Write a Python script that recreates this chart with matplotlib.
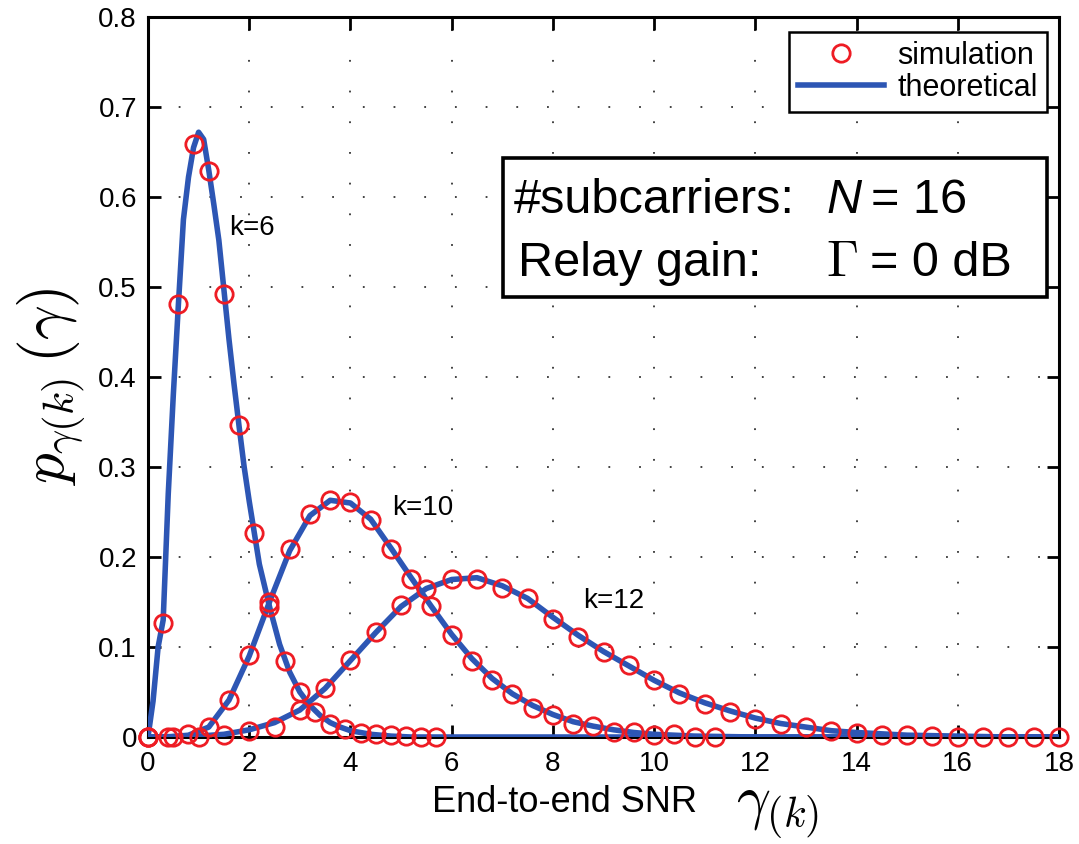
import numpy as np
import matplotlib
matplotlib.use("Agg")
import matplotlib.pyplot as plt
from matplotlib.lines import Line2D
from matplotlib.patches import Rectangle

# ---------------- data ----------------
# simulation points, k = 6
sim6_x = [0, 0.3, 0.6, 0.9, 1.2, 1.5, 1.8, 2.1, 2.4, 2.7, 3.0, 3.3, 3.6, 3.9, 4.2, 4.5, 4.8, 5.1, 5.4, 5.7]
sim6_y = [0.0, 0.127, 0.481, 0.659, 0.629, 0.492, 0.347, 0.227, 0.145, 0.085, 0.050, 0.028, 0.015,
          0.009, 0.005, 0.003, 0.002, 0.001, 0.0005, 0.0]
# simulation points, k = 10
sim10_x = [0, 0.4, 0.8, 1.2, 1.6, 2.0, 2.4, 2.8, 3.2, 3.6, 4.0, 4.4, 4.8, 5.2, 5.6, 6.0, 6.4, 6.8,
           7.2, 7.6, 8.0, 8.4, 8.8, 9.2, 9.6, 10.0, 10.4, 10.8, 11.2]
sim10_y = [0.0, 0.0, 0.003, 0.011, 0.041, 0.091, 0.150, 0.209, 0.248, 0.263, 0.261, 0.241, 0.209,
           0.176, 0.146, 0.113, 0.085, 0.063, 0.048, 0.032, 0.024, 0.015, 0.012, 0.006, 0.006,
           0.002, 0.003, 0.0005, 0.0]
# simulation points, k = 12
sim12_x = [0, 0.5, 1.0, 1.5, 2.0, 2.5, 3.0, 3.5, 4.0, 4.5, 5.0, 5.5, 6.0, 6.5, 7.0, 7.5, 8.0, 8.5,
           9.0, 9.5, 10.0, 10.5, 11.0, 11.5, 12.0, 12.5, 13.0, 13.5, 14.0, 14.5, 15.0, 15.5,
           16.0, 16.5, 17.0, 17.5, 18.0]
sim12_y = [0.0, 0.0, 0.0, 0.002, 0.007, 0.011, 0.030, 0.054, 0.086, 0.117, 0.147, 0.165, 0.176,
           0.176, 0.166, 0.154, 0.131, 0.111, 0.094, 0.080, 0.063, 0.048, 0.037, 0.028, 0.020,
           0.015, 0.011, 0.007, 0.004, 0.002, 0.002, 0.001, 0.0005, 0.0, 0.0, 0.0, 0.0]

# theoretical curves
th6_x = [0, 0.1, 0.2, 0.3, 0.4, 0.5, 0.6, 0.7, 0.8, 0.9, 1.0, 1.1, 1.2, 1.3, 1.4, 1.5, 1.6, 1.7,
         1.8, 1.9, 2.0, 2.2, 2.4, 2.6, 2.8, 3.0, 3.2, 3.4, 3.6, 3.8, 4.0, 4.4, 4.8, 5.2, 6.0, 18.0]
th6_y = [0.0, 0.040, 0.100, 0.130, 0.270, 0.380, 0.480, 0.575, 0.622, 0.655, 0.672, 0.664, 0.630,
         0.592, 0.552, 0.497, 0.442, 0.392, 0.345, 0.300, 0.262, 0.192, 0.145, 0.103, 0.072,
         0.050, 0.035, 0.024, 0.016, 0.011, 0.007, 0.003, 0.001, 0.0, 0.0, 0.0]
th10_x = [0, 0.4, 0.8, 1.2, 1.6, 2.0, 2.4, 2.8, 3.2, 3.6, 4.0, 4.4, 4.8, 5.2, 5.6, 6.0, 6.4, 6.8,
          7.2, 7.6, 8.0, 8.4, 8.8, 9.2, 9.6, 10.0, 10.8, 12.0, 18.0]
th10_y = [0.0, 0.0, 0.002, 0.011, 0.041, 0.090, 0.150, 0.207, 0.246, 0.263, 0.260, 0.242, 0.210,
          0.177, 0.145, 0.114, 0.087, 0.065, 0.048, 0.035, 0.025, 0.017, 0.012, 0.008, 0.005,
          0.003, 0.001, 0.0, 0.0]
th12_x = [0, 1.0, 1.5, 2.0, 2.5, 3.0, 3.5, 4.0, 4.5, 5.0, 5.5, 6.0, 6.5, 7.0, 7.5, 8.0, 8.5, 9.0,
          9.5, 10.0, 10.5, 11.0, 11.5, 12.0, 12.5, 13.0, 13.5, 14.0, 15.0, 16.0, 17.0, 18.0]
th12_y = [0.0, 0.001, 0.003, 0.008, 0.016, 0.030, 0.054, 0.085, 0.116, 0.145, 0.165, 0.175, 0.177,
          0.168, 0.154, 0.133, 0.113, 0.095, 0.079, 0.063, 0.049, 0.038, 0.029, 0.021, 0.015,
          0.011, 0.007, 0.005, 0.002, 0.001, 0.0, 0.0]

x_ticks = [0, 2, 4, 6, 8, 10, 12, 14, 16, 18]
x_ticklabels = ['0', '2', '4', '6', '8', '10', '12', '14', '16', '18']
y_ticks = [0, 0.1, 0.2, 0.3, 0.4, 0.5, 0.6, 0.7, 0.8]
y_ticklabels = ['0', '0.1', '0.2', '0.3', '0.4', '0.5', '0.6', '0.7', '0.8']
legend_labels = ['simulation', 'theoretical']
curve_labels = ['k=6', 'k=10', 'k=12']

# ---------------- styling ----------------
plt.rcParams['font.family'] = ['Liberation Sans', 'DejaVu Sans']
plt.rcParams['mathtext.fontset'] = 'cm'

W, H = 1079, 844
BLUE = '#2d56b4'
RED = '#ee1c24'

def fx(px):
    return px / W

def fy(py):
    return 1 - py / H

fig = plt.figure(figsize=(W / 100, H / 100), dpi=100)
ax = fig.add_axes([fx(148), fy(737), (1059 - 148) / W, (737 - 17) / H])

for xs, ys in [(th6_x, th6_y), (th10_x, th10_y), (th12_x, th12_y)]:
    ax.plot(xs, ys, color=BLUE, lw=4.0, solid_joinstyle='round', zorder=3)
for xs, ys in [(sim6_x, sim6_y), (sim10_x, sim10_y), (sim12_x, sim12_y)]:
    ax.plot(xs, ys, ls='none', marker='o', ms=12.5, mfc='none', mec=RED, mew=2.0, zorder=4,
            clip_on=False)

ax.set_xlim(0, 18)
ax.set_ylim(0, 0.8)
ax.set_xticks(x_ticks)
ax.set_xticklabels(x_ticklabels)
ax.set_yticks(y_ticks)
ax.set_yticklabels(y_ticklabels)
ax.tick_params(direction='in', length=9, width=2, labelsize=20, top=True, right=True,
               pad=8, colors='black')
ax.tick_params(axis='x', pad=10)
for s in ax.spines.values():
    s.set_linewidth(2.2)
ax.grid(True, color='#333333', lw=1.3, ls=(0, (1, 16)))

# curve labels
ax.text(1.6, 0.566, curve_labels[0], fontsize=20, va='center', ha='left')
ax.text(4.83, 0.254, curve_labels[1], fontsize=20, va='center', ha='left')
ax.text(8.6, 0.151, curve_labels[2], fontsize=20, va='center', ha='left')

# legend
handles = [Line2D([], [], ls='none', marker='o', ms=12.5, mfc='none', mec=RED, mew=2.0),
           Line2D([], [], color=BLUE, lw=4.0)]
leg = ax.legend(handles, legend_labels, loc='upper right',
                bbox_to_anchor=((1047 - 148) / (1059 - 148), (737 - 32) / (737 - 17)),
                fontsize=22, frameon=True, fancybox=False, borderpad=0.3,
                handlelength=2.8, handletextpad=0.45, labelspacing=0.05, borderaxespad=0)
leg.get_frame().set_edgecolor('black')
leg.get_frame().set_linewidth(1.8)
leg.get_frame().set_alpha(1)

# annotation box
fig.patches.append(Rectangle((fx(503), fy(297)), (1047 - 503) / W, (297 - 158) / H,
                             transform=fig.transFigure, fill=True, facecolor='white',
                             edgecolor='black', lw=2.6, zorder=5))
tsz = 35
fig.text(fx(514), fy(213), '#subcarriers:', fontsize=tsz, va='baseline', ha='left', zorder=6)
fig.text(fx(826), fy(213), 'N', fontsize=tsz, style='italic', va='baseline', ha='left', zorder=6)
fig.text(fx(871), fy(213), '= 16', fontsize=tsz, va='baseline', ha='left', zorder=6)
fig.text(fx(518), fy(276), 'Relay gain:', fontsize=tsz, va='baseline', ha='left', zorder=6)
fig.text(fx(826), fy(276), r'$\Gamma$', fontsize=tsz + 2, va='baseline', ha='left', zorder=6)
fig.text(fx(870), fy(276), '= 0 dB', fontsize=tsz, va='baseline', ha='left', zorder=6)

# axis labels
fig.text(fx(565), fy(803), 'End-to-end SNR', fontsize=26, ha='center', va='center')
fig.text(fx(778), fy(813), r'$\gamma_{(k)}$', fontsize=43, ha='center', va='center')
fig.text(fx(52), fy(387), r'$p_{\gamma(k)}\,(\gamma)$', fontsize=44, ha='center', va='center',
         rotation=90)

fig.savefig('out.png', dpi=100, facecolor='white')
